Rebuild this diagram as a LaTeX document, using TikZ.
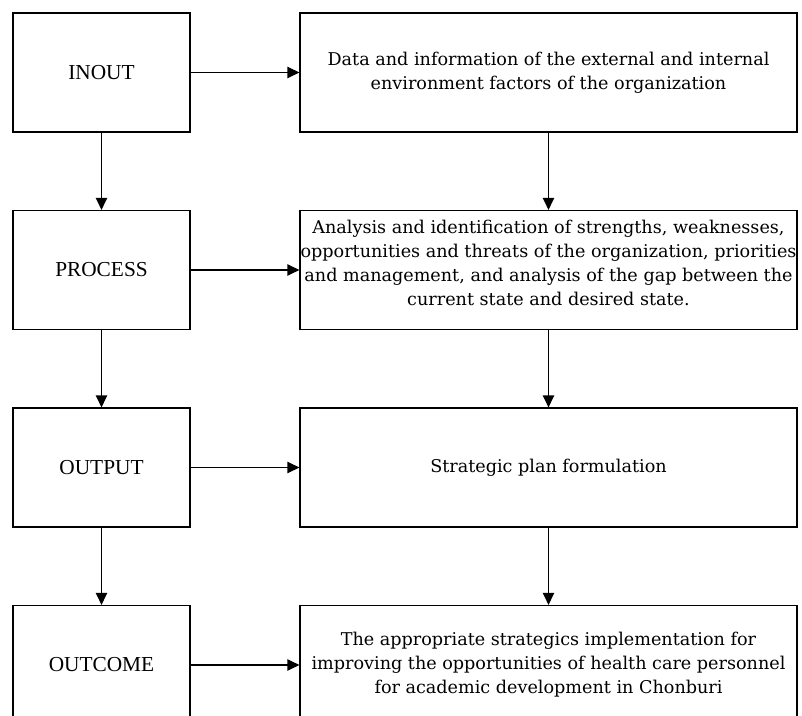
\documentclass[tikz,border=0pt]{standalone}
\usepackage{fontspec}
\setmainfont{Liberation Serif}
\newfontfamily\bookfont{DejaVu Serif}
\usetikzlibrary{arrows.meta}

\tikzset{
    stagebox/.style={draw, line width=0.9pt, minimum width=132.75pt, minimum height=89.25pt,
        inner sep=0pt, font=\fontsize{16}{19}\selectfont},
    stepbox/.style={draw, line width=0.9pt, minimum width=372.75pt, minimum height=89.25pt,
        inner sep=0pt, align=center, font=\bookfont\fontsize{13.2}{18}\selectfont},
    flow/.style={line width=0.9pt, -{Triangle[length=9pt,width=8.5pt]}}
}

\begin{document}
\begin{tikzpicture}[x=0.75pt,y=0.75pt,yscale=-1,xscale=1]
    \useasboundingbox (0,0) rectangle (802,716);
    \clip (0,0) rectangle (802,716);

    % Stage boxes
    \node [stagebox] (inout) at (101.5,72.5) {INOUT};
    \node [stagebox] (process) at (101.5,270) {PROCESS};
    \node [stagebox] (output) at (101.5,467.5) {OUTPUT};
    \node [stagebox] (outcome) at (101.5,665) {OUTCOME};

    % Content boxes
    \node [stepbox] (datainfo) at (548.5,72.5) {Data and information of the external and internal\\
        environment factors of the organization};
    \node [stepbox, text depth=11pt] (analysis) at (548.5,270) {Analysis and identification of strengths, weaknesses,\\
        opportunities and threats of the organization, priorities\\
        and management, and analysis of the gap between the\\
        current state and desired state.};
    \node [stepbox] (plan) at (548.5,467.5) {Strategic plan formulation};
    \node [stepbox] (implement) at (548.5,665) {The appropriate strategics implementation for\\
        improving the opportunities of health care personnel\\
        for academic development in Chonburi};

    % Connectors
    \draw [flow] (inout) -- (datainfo);
    \draw [flow] (process) -- (analysis);
    \draw [flow] (output) -- (plan);
    \draw [flow] (outcome) -- (implement);
    \draw [flow] (inout) -- (process);
    \draw [flow] (process) -- (output);
    \draw [flow] (output) -- (outcome);
    \draw [flow] (datainfo) -- (analysis);
    \draw [flow] (analysis) -- (plan);
    \draw [flow] (plan) -- (implement);

\end{tikzpicture}
\end{document}
